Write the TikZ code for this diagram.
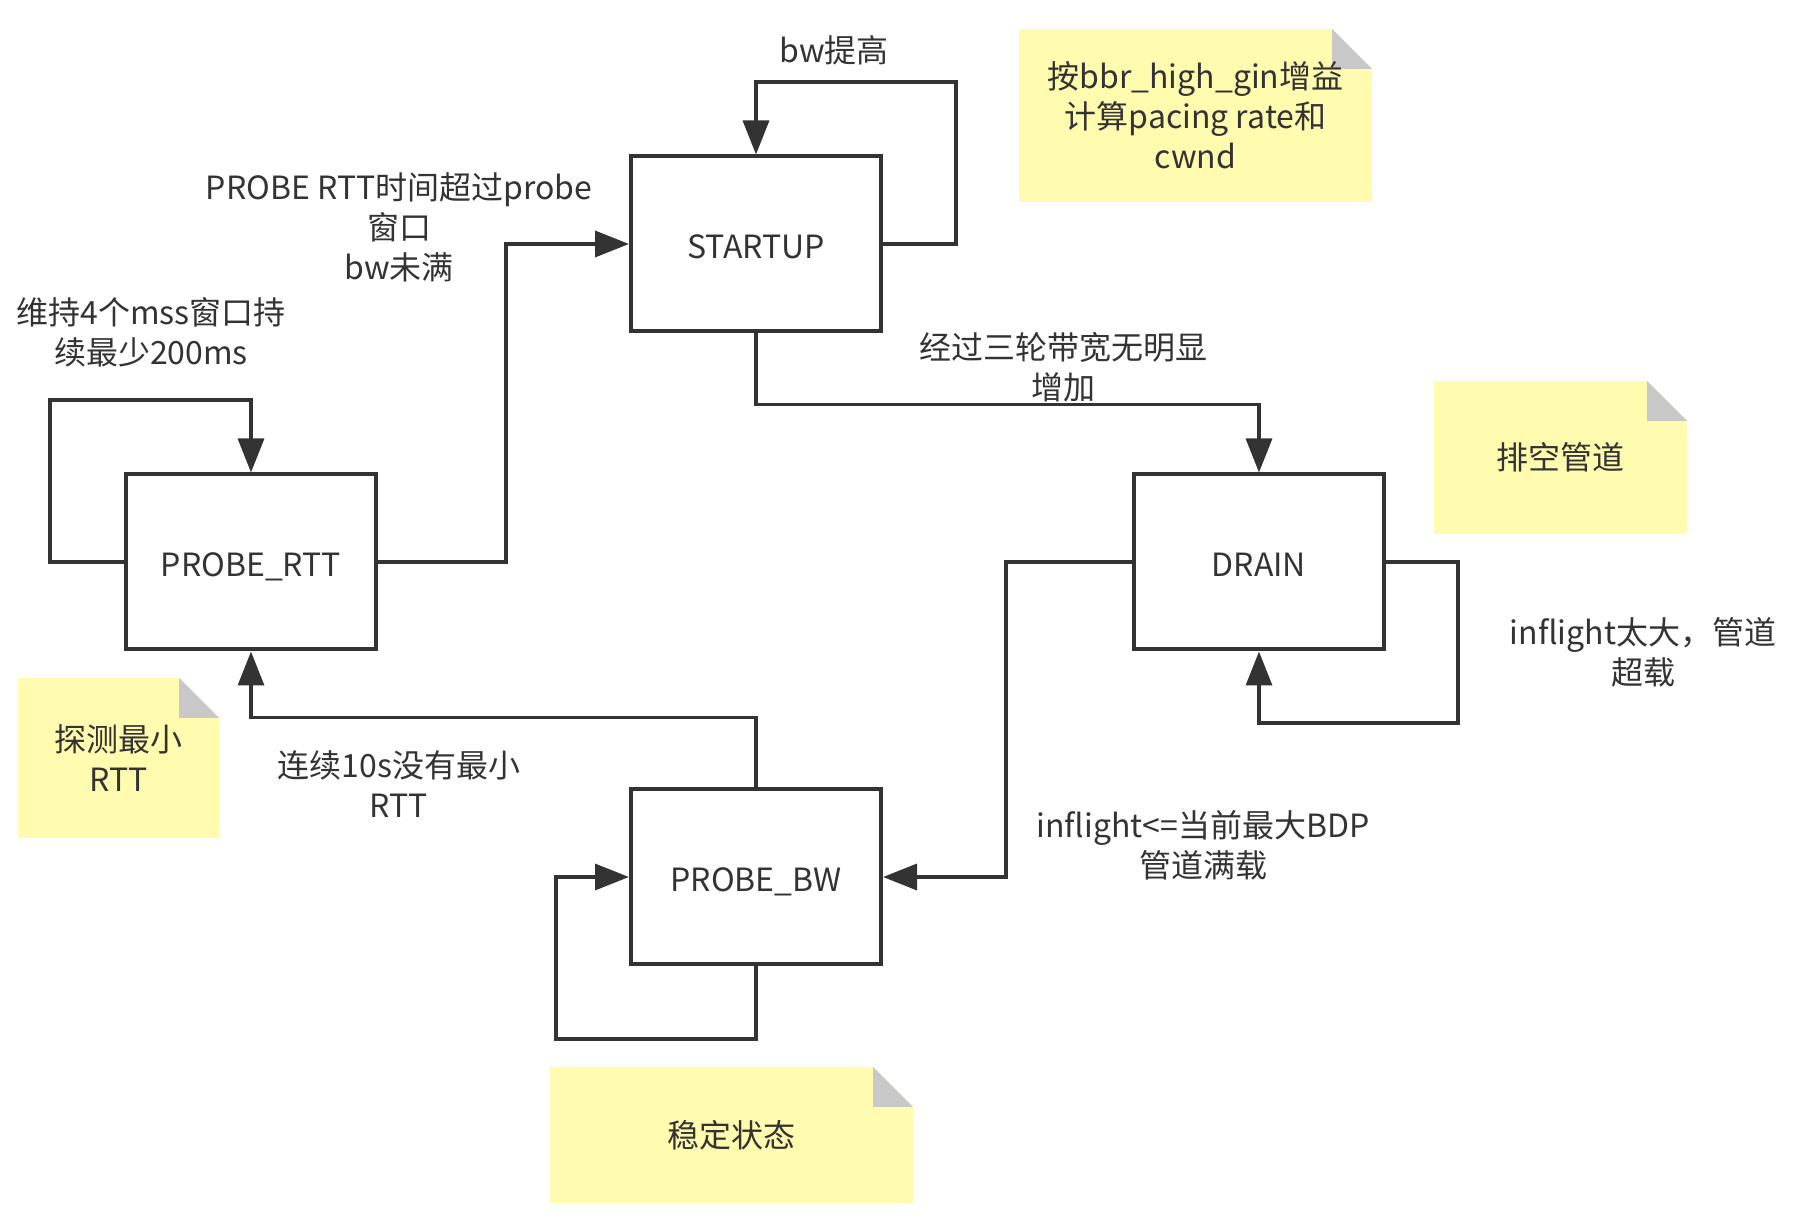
\documentclass[tikz,border=0pt]{standalone}
\usepackage{xcolor}
\usepackage{fontspec}
\setmainfont{Noto Sans CJK SC}
\usetikzlibrary{arrows.meta}
\definecolor{inkgray}{HTML}{333333}
\definecolor{noteyellow}{HTML}{FFFBAF}
\definecolor{foldgray}{HTML}{C8C8C8}

\begin{document}
\begin{tikzpicture}[x=0.5pt,y=-0.5pt,
  font=\fontsize{16}{20}\selectfont,text=inkgray,
  state/.style={draw=inkgray,line width=2pt,fill=white,minimum width=125pt,minimum height=87.5pt,inner sep=0pt,text height=15pt,text depth=0pt},
  link/.style={draw=inkgray,line width=1.7pt,-{Triangle[length=17pt,width=13pt]}},
  lbl/.style={align=center,inner sep=0pt},
  note/.style={fill=noteyellow,align=center,inner sep=0pt,
    path picture={
      \fill[white] ([xshift=-20pt]path picture bounding box.north east) -- (path picture bounding box.north east) -- ([yshift=-20pt]path picture bounding box.north east) -- cycle;
      \fill[foldgray] ([xshift=-20pt]path picture bounding box.north east) -- ([xshift=-20pt,yshift=-20pt]path picture bounding box.north east) -- ([yshift=-20pt]path picture bounding box.north east) -- cycle;}}]
          \useasboundingbox (0,0) rectangle (1796,1218);

          %states
          \node[state] (startup) at (756,244) {STARTUP};
          \node[state] (probertt) at (251,562) {PROBE\_RTT};
          \node[state] (drain) at (1259,562) {DRAIN};
          \node[state] (probebw) at (756,877) {PROBE\_BW};

          %self loops
          \coordinate (suloop) at (956,82);
          \coordinate (rttloop) at (50,400);
          \coordinate (drloop) at (1458,723);
          \coordinate (bwloop) at (556,1039);
          \draw[link] (startup.east) -| (suloop) -| (startup.north);
          \draw[link] (probertt.west) -| (rttloop) -| (probertt.north);
          \draw[link] (drain.east) -| (drloop) -| (drain.south);
          \draw[link] (probebw.south) |- (bwloop) |- (probebw.west);

          %transitions
          \draw[link] (probertt.east) -- ++(128,0) |- (startup.west);
          \draw[link] (startup.south) -- ++(0,71) -| (drain.north);
          \draw[link] (drain.west) -- ++(-126,0) |- (probebw.east);
          \draw[link] (probebw.north) -- ++(0,-70) -| (probertt.south);

          %labels
          \node[lbl] (lbwup) at (834,50) {bw提高};
          \node[lbl] (lrttout) at (399,227) {PROBE RTT时间超过probe\\窗口\\bw未满};
          \node[lbl] (lrttkeep) at (151,332) {维持4个mss窗口持\\续最少200ms};
          \node[lbl] (lflat) at (1063,367) {经过三轮带宽无明显\\增加};
          \node[lbl] (lover) at (1643,652) {inflight太大，管道\\超载};
          \node[lbl] (lbdp) at (1203,845) {inflight<=当前最大BDP\\管道满载};
          \node[lbl] (lnortt) at (399,784) {连续10s没有最小\\RTT};

          %notes
          \node[note,minimum width=176.5pt,minimum height=86.5pt] (ngain) at (1195.5,115.5) {按bbr\_high\_gin增益\\计算pacing rate和\\cwnd};
          \node[note,minimum width=126.5pt,minimum height=76.5pt] (ndrain) at (1560.5,457.5) {排空管道};
          \node[note,minimum width=100.5pt,minimum height=80pt] (nrtt) at (118.5,758) {探测最小\\RTT};
          \node[note,minimum width=181.5pt,minimum height=68pt] (nsteady) at (731.5,1135) {稳定状态};
          \end{tikzpicture}
\end{document}
